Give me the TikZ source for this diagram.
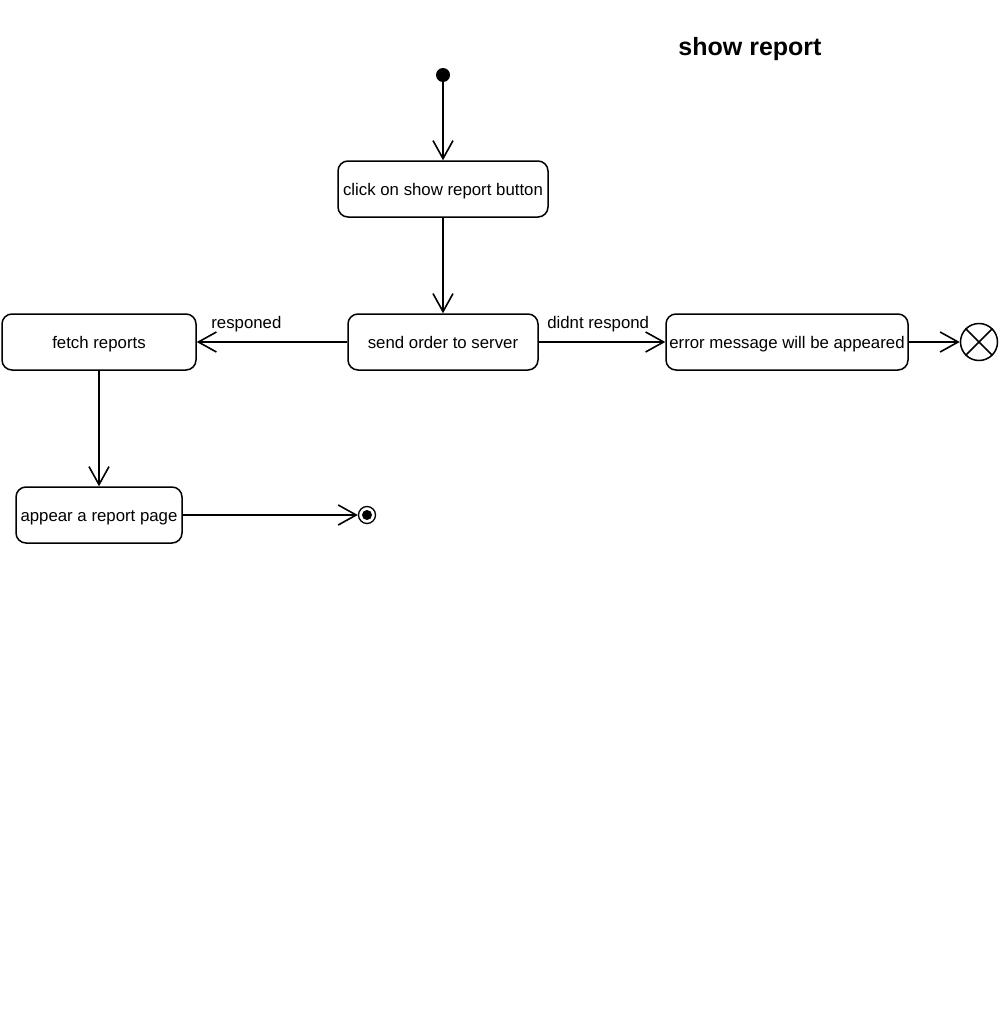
\documentclass[tikz,border=0pt]{standalone}
\usepackage{fontspec}
\setmainfont{Liberation Sans}
\usetikzlibrary{arrows.meta}
\begin{document}
\begin{tikzpicture}[x=1pt,y=-1pt,
  font=\fontsize{16.8}{19}\selectfont,
  statebox/.style={draw, line width=1.5pt, rounded corners=10pt, inner sep=0pt, text height=14pt, text depth=2pt},
  flow/.style={line width=1.6pt, -{Straight Barb[length=18pt,width=20pt,line width=1.6pt]}},
  lbl/.style={inner sep=1pt}]
\useasboundingbox (0,0) rectangle (999,1022);
\fill[white] (0,0) rectangle (999,1022);
\node[font=\fontsize{25}{29}\selectfont\bfseries] (title) at (750,49) {show report};
\node[circle, fill=black, minimum size=14pt, inner sep=0pt] (init) at (443,75) {};
\node[statebox, minimum width=210pt, minimum height=56pt] (click) at (443,189) {click on show report button};
\node[statebox, minimum width=190pt, minimum height=56pt] (send) at (443,342) {send order to server};
\node[statebox, minimum width=194pt, minimum height=56pt] (fetch) at (99,342) {fetch reports};
\node[statebox, minimum width=242pt, minimum height=56pt] (err) at (787,342) {error message will be appeared};
\node[statebox, minimum width=166pt, minimum height=56pt] (appear) at (99,515) {appear a report page};
\node[circle, draw, line width=1.5pt, minimum size=37pt, inner sep=0pt] (term) at (979,342) {};
\draw[line width=1.5pt] (term.north west) -- (term.south east) (term.north east) -- (term.south west);
\node[circle, draw, line width=1.3pt, minimum size=17pt, inner sep=0pt] (final) at (367,515) {};
\node[circle, fill=black, minimum size=10pt, inner sep=0pt] (finaldot) at (final.center) {};
\draw[flow] (init) -- (click);
\draw[flow] (click) -- (send);
\draw[flow] (send) -- node[lbl, pos=0.67, above=8pt] {responed} (fetch);
\draw[flow] (send) -- node[lbl, pos=0.47, above=8pt] {didnt respond} (err);
\draw[flow] (err) -- (term);
\draw[flow] (fetch) -- (appear);
\draw[flow] (appear) -- (final);
\end{tikzpicture}
\end{document}
